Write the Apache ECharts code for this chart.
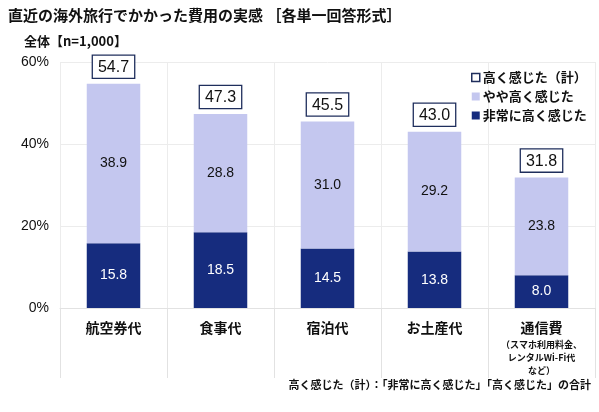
<!DOCTYPE html>
<html>
<head>
<meta charset="utf-8">
<script src="https://cdn.jsdelivr.net/npm/echarts@6/dist/echarts.min.js"></script>
<style>
html,body{margin:0;padding:0;background:#fff;}
#main{width:599px;height:412px;}
</style>
</head>
<body>
<div id="main"></div>
<script>
var categories = ['航空券代', '食事代', '宿泊代', 'お土産代', '通信費\n（スマホ利用料金、\nレンタルWi-Fi代\nなど）'];
var veryHigh = [15.8, 18.5, 14.5, 13.8, 8.0];
var slightlyHigh = [38.9, 28.8, 31.0, 29.2, 23.8];
var totals = [54.7, 47.3, 45.5, 43.0, 31.8];
var yTicks = [0, 20, 40, 60];

var font = 'Noto Sans CJK JP';
var numFont = 'Liberation Sans';
var chart = echarts.init(document.getElementById('main'));

var option = {
    textStyle: { fontFamily: font },
    title: [{
        text: '直近の海外旅行でかかった費用の実感 ［各単一回答形式］',
        left: 3,
        top: 3,
        textStyle: { fontSize: 15, fontWeight: 'bold', color: '#111', fontFamily: font }
    }, {
        text: '全体【n=1,000】',
        left: 19,
        top: 30,
        textStyle: { fontSize: 13, fontWeight: 'bold', color: '#111', fontFamily: font }
    }, {
        text: '高く感じた（計）：「非常に高く感じた」「高く感じた」の合計',
        right: 3,
        top: 374,
        textStyle: { fontSize: 11, fontWeight: 'bold', color: '#111', fontFamily: font }
    }],
    legend: {
        orient: 'vertical',
        left: 466,
        top: 66,
        itemWidth: 8,
        itemHeight: 8,
        itemGap: 6,
        icon: 'rect',
        textStyle: { fontSize: 13, fontWeight: 'bold', color: '#111', fontFamily: font, padding: [0, 0, 0, -2] },
        data: [
            { name: '高く感じた（計）', itemStyle: { color: '#fff', borderColor: '#1F2E5C', borderWidth: 1.5 } },
            { name: 'やや高く感じた' },
            { name: '非常に高く感じた' }
        ]
    },
    grid: { left: 60, right: 4, top: 62, bottom: 104 },
    xAxis: {
        type: 'category',
        data: categories,
        axisLine: { show: true, lineStyle: { color: '#e2e2e2' } },
        axisTick: { show: true, length: 70, lineStyle: { color: '#e2e2e2' } },
        splitLine: { show: true, lineStyle: { color: '#ececec' } },
        axisLabel: {
            margin: 10,
            interval: 0,
            formatter: function (v) {
                var lines = v.split('\n');
                var out = '{a|' + lines[0] + '}';
                for (var i = 1; i < lines.length; i++) out += '\n{b|' + lines[i] + '}';
                return out;
            },
            rich: {
                a: { fontSize: 14, fontWeight: 'bold', color: '#111', lineHeight: 20, fontFamily: font },
                b: { fontSize: 9, fontWeight: 'bold', color: '#111', lineHeight: 13, fontFamily: font }
            }
        }
    },
    yAxis: {
        type: 'value',
        min: yTicks[0],
        max: yTicks[yTicks.length - 1],
        interval: 20,
        axisLine: { show: false },
        axisTick: { show: false },
        splitLine: { show: true, lineStyle: { color: '#ececec' } },
        axisLabel: {
            margin: 11,
            fontSize: 14,
            color: '#111',
            fontFamily: numFont,
            formatter: '{value}%'
        }
    },
    series: [{
        name: '非常に高く感じた',
        type: 'bar',
        stack: 'a',
        barWidth: '50%',
        data: veryHigh,
        itemStyle: { color: '#162C7E' },
        label: {
            show: true,
            position: 'inside',
            color: '#fff',
            fontSize: 14,
            fontFamily: numFont,
            formatter: function (p) { return p.value.toFixed(1); }
        }
    }, {
        name: 'やや高く感じた',
        type: 'bar',
        stack: 'a',
        data: slightlyHigh,
        itemStyle: { color: '#C4C7EF' },
        label: {
            show: true,
            position: 'inside',
            color: '#111',
            fontSize: 14,
            fontFamily: numFont,
            formatter: function (p) { return p.value.toFixed(1); }
        }
    }, {
        name: '高く感じた（計）',
        type: 'bar',
        stack: 'a',
        data: totals.map(function () { return 0; }),
        itemStyle: { color: 'rgba(0,0,0,0)' },
        label: {
            show: true,
            position: 'top',
            distance: 6,
            color: '#111',
            fontSize: 16,
            fontFamily: numFont,
            backgroundColor: '#fff',
            borderColor: '#1F2E5C',
            borderWidth: 1.3,
            padding: [4, 5, 2, 5],
            formatter: function (p) { return totals[p.dataIndex].toFixed(1); }
        }
    }]
};

chart.setOption(option);
</script>
</body>
</html>
